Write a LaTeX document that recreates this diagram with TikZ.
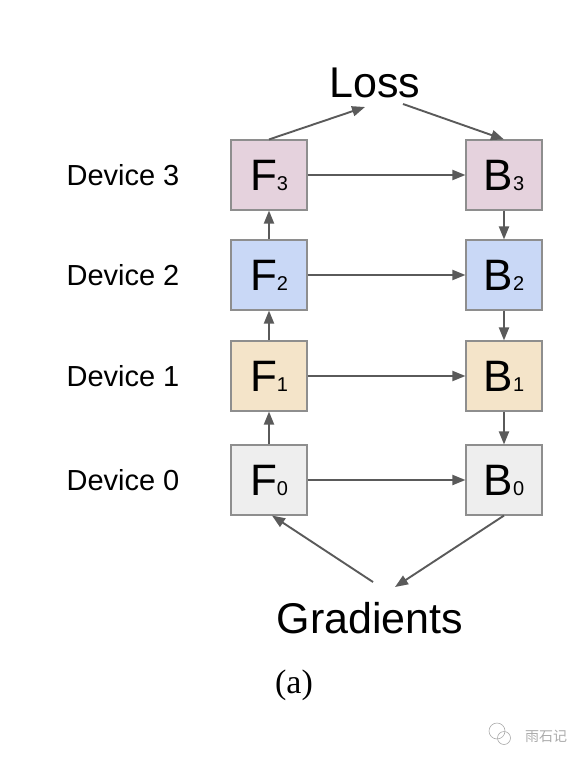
\documentclass[tikz,border=0pt]{standalone}
\usepackage{fontspec}
\setmainfont{Liberation Sans}
\newfontfamily\capfont{Liberation Serif}
\newfontfamily\cjkfont{Noto Sans CJK SC}
\usetikzlibrary{arrows.meta}

\definecolor{dev0}{HTML}{EEEEEE}
\definecolor{dev1}{HTML}{F4E4C9}
\definecolor{dev2}{HTML}{C9D8F6}
\definecolor{dev3}{HTML}{E5D2DD}
\definecolor{boxgray}{HTML}{8E8E8E}
\definecolor{arrgray}{HTML}{5A5A5A}
\definecolor{markgray}{HTML}{ABABAB}

\newcommand{\stagetext}[2]{{\fontsize{44}{44}\selectfont #1}{\fontsize{20}{20}\selectfont #2}}

\begin{document}
\begin{tikzpicture}[x=1pt, y=-1pt,
    stage/.style={draw=boxgray, line width=1.1pt, minimum width=76pt, minimum height=70pt, inner sep=0pt},
    flow/.style={draw=arrgray, line width=1.9pt, -{Triangle[length=13pt, width=10pt]}},
    devlabel/.style={font=\fontsize{29}{29}\selectfont},
    bigtext/.style={font=\fontsize{43}{43}\selectfont}]
    \useasboundingbox (0,0) rectangle (586,760);
    % devices
    \foreach \i/\y/\c in {0/480/dev0, 1/376/dev1, 2/275/dev2, 3/175/dev3} {
        \node[stage, fill=\c] (f\i) at (269,\y) {\stagetext{F}{\i}};
        \node[stage, fill=\c] (b\i) at (504,\y) {\stagetext{B}{\i}};
        \node[devlabel] (dev\i) at (123,\y) {Device \i};
        \draw[flow] (f\i) -- (b\i);
    }
    \foreach \i/\j in {0/1, 1/2, 2/3} {
        \draw[flow] (f\i) -- (f\j);
        \draw[flow] (b\j) -- (b\i);
    }
    % loss and gradients
    \node[bigtext] (loss) at (375,83) {Loss};
    \node[bigtext] (grad) at (370,618) {Gradients};
    \coordinate (lossin) at (365,107);
    \coordinate (lossout) at (403,104);
    \coordinate (gradout) at (373,582);
    \coordinate (gradin) at (395,587);
    \draw[flow] (f3.north) -- (lossin);
    \draw[flow] (lossout) -- (b3.north);
    \draw[flow] (gradout) -- ([xshift=3pt]f0.south);
    \draw[flow] (b0.south) -- (gradin);
    \node[font=\capfont\fontsize{34}{34}\selectfont] (cap) at (294,685) {(a)};
    % watermark
    \draw[markgray, line width=0.6pt] (497,731) circle (8);
    \draw[markgray, line width=0.6pt] (504,738) circle (6.5);
    \node[font=\cjkfont\fontsize{14}{14}\selectfont, text=markgray] (mark) at (546,736) {雨石记};
\end{tikzpicture}
\end{document}
